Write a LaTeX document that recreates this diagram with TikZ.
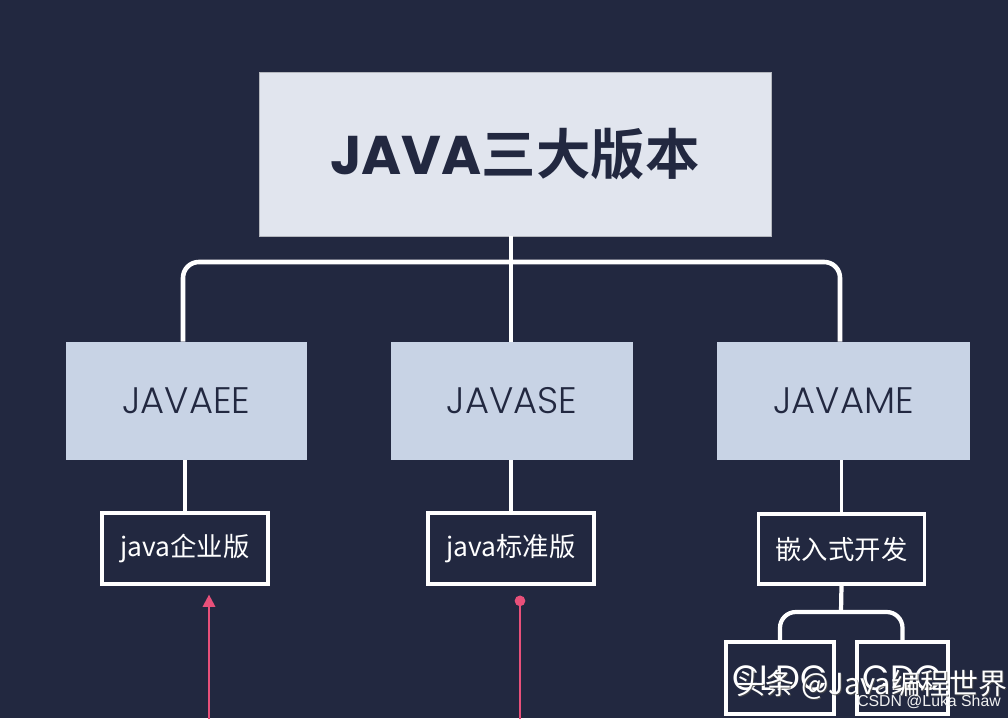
\documentclass[tikz,border=0pt]{standalone}
\usepackage{fontspec}
\setmainfont{Poppins}
\newfontfamily\cjk{Noto Sans CJK SC}
\newfontfamily\cjkb{Noto Sans CJK SC Bold}
\newfontfamily\popb{Poppins Bold}
\newfontfamily\popl{Poppins Light}
\newfontfamily\lib{Liberation Sans}
\usetikzlibrary{arrows.meta}
\definecolor{bg}{HTML}{222840}
\definecolor{topfill}{HTML}{E1E5EE}
\definecolor{midfill}{HTML}{C8D3E5}
\definecolor{pinkc}{HTML}{E8507A}
\tikzset{
  topbox/.style={fill=topfill, draw=topfill!80!black, line width=0.4pt, minimum width=512*0.02cm, minimum height=164*0.02cm, inner sep=0pt, text=bg},
  midbox/.style={fill=midfill, minimum height=118*0.02cm, inner sep=0pt, text=bg, font=\popl\fontsize{21}{24}\selectfont},
  leafbox/.style={draw=white, line width=1.8pt, fill=bg, minimum width=166*0.02cm, minimum height=71*0.02cm, inner sep=0pt, text=white, font=\cjk\fontsize{15}{18}\selectfont},
  subbox/.style={draw=white, line width=1.8pt, fill=bg, minimum height=72*0.02cm, inner sep=0pt, text=white, font=\fontsize{20}{24}\selectfont},
  conn/.style={draw=white, line width=2.6pt, rounded corners=9pt},
  pinkline/.style={draw=pinkc, line width=1.3pt},
}
\begin{document}
\begin{tikzpicture}[x=0.02cm,y=-0.02cm]
\fill[bg] (0,0) rectangle (1008,718);
\useasboundingbox (0,0) rectangle (1008,718);
\clip (0,0) rectangle (1008,718);
% nodes
\node[topbox] (top) at (515,154) {\popb\fontsize{31}{34}\selectfont JAVA\cjkb 三大版本};
\node[midbox, minimum width=241*0.02cm] (ee) at (186.5,401) {JAVAEE};
\node[midbox, minimum width=242*0.02cm] (se) at (512,401) {JAVASE};
\node[midbox, minimum width=253*0.02cm] (me) at (843.5,401) {JAVAME};
\node[leafbox] (qe) at (185,548.5) {java企业版};
\node[leafbox] (qse) at (511,548.5) {java标准版};
\node[leafbox, minimum height=70*0.02cm] (emb) at (841.5,549) {嵌入式开发};
\node[subbox, minimum width=108*0.02cm] (cldc) at (780,678) {CLDC};
\node[subbox, minimum width=91*0.02cm] (cdc) at (902.5,678) {CDC};
% connectors
\coordinate (bus) at (511,262);
\draw[conn] (ee.north -| 183,0) |- (bus) -| (me.north -| 840,0);
\draw[conn] (top.south -| bus) -- (se.north -| bus);
\draw[line width=2.2pt, white] (ee.south -| qe.north) -- (qe.north);
\draw[line width=2.2pt, white] (se.south -| qse.north) -- (qse.north);
\draw[line width=2.2pt, white] (me.south -| emb.north) -- (emb.north);
\coordinate (bus2) at (841,612);
\draw[conn, line width=2.4pt] (emb.south) -- (bus2);
\draw[conn, line width=2.4pt] (cldc.north) |- (bus2) -| (cdc.north);
% pink lines
\coordinate (p1) at (209,720);
\coordinate (p2) at (520,720);
\draw[pinkline, -{Triangle[length=7pt,width=7pt]}] (p1) -- ([yshift=-9*0.02cm]qe.south -| p1);
\draw[pinkline, -{Circle[length=6pt]}] (p2) -- ([yshift=-10*0.02cm]qse.south -| p2);
% watermarks
\node[text=black!70, opacity=0.8, font=\cjk\fontsize{16.5}{20}\selectfont, anchor=center] (wm0) at (873,686) {头条 @Java编程世界};
\node[text=white, font=\cjk\fontsize{16.5}{20}\selectfont, anchor=center] (wm) at (872,685) {头条 @Java编程世界};
\node[text=white!88!gray, font=\lib\fontsize{9}{10}\selectfont, anchor=center] (csdn) at (929,702) {CSDN @Luka Shaw};
\end{tikzpicture}
\end{document}
